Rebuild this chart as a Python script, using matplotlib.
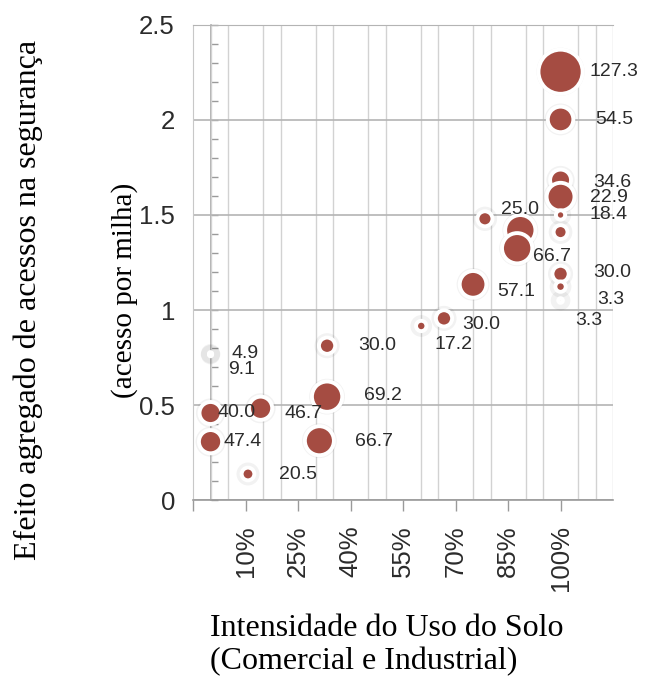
import numpy as np
import matplotlib.pyplot as plt
from matplotlib.ticker import MultipleLocator

# data
uso_solo = [0, 0, 0, 0, 10.7, 14.3, 33.3, 33.3, 31.1, 60.2, 66.7, 75.0,
            78.4, 88.5, 87.6, 100, 100, 100, 100, 100, 100, 100, 100, 100]
efeito = [0.770, 0.765, 0.458, 0.307, 0.137, 0.483, 0.812, 0.544, 0.312, 0.916, 0.956, 1.135,
          1.480, 1.420, 1.325, 2.254, 2.003, 1.684, 1.596, 1.500, 1.410, 1.190, 1.123, 1.050]
rotulos = ["9.1", "4.9", "40.0", "47.4", "20.5", "46.7", "30.0", "69.2", "66.7", "17.2", "30.0", "57.1",
           "25.0", "", "66.7", "127.3", "54.5", "34.6", "22.9", "18.4", "", "30.0", "3.3", "3.3"]
# relative bubble size (area)
peso = [2, 2, 90, 100, 30, 100, 49, 170, 156, 20, 49, 132,
        42, 170, 170, 361, 121, 81, 144, 16, 36, 49, 20, 4]

x_ticks = [-5, 10, 25, 40, 55, 70, 85, 100]
x_ticklabels = ["", "10%", "25%", "40%", "55%", "70%", "85%", "100%"]
y_ticks = [0, 0.5, 1, 1.5, 2, 2.5]
y_ticklabels = ["0", "0.5", "1", "1.5", "2", "2.5"]

# label placement offsets in pixels (Tableau moved some labels around)
label_offsets = [(18, -16), (21, 1), (7, 0), (13, 0), (31, -1), (24, -5), (31, 0), (37, 1),
                 (36, -1), (13, -19), (18, -6), (24, -7), (16, 9), (0, 0), (16, -8), (29, 0),
                 (35, 0), (33, -2), (29, -1), (29, 0), (0, 0), (33, 1), (37, -13), (15, -20)]

bubble_color = '#a54c42'
text_color = '#2b2b2b'
serif = ['Liberation Serif', 'DejaVu Serif']
sans = ['Liberation Sans', 'DejaVu Sans']

fig = plt.figure(figsize=(6.46, 6.79), dpi=100)
ax = fig.add_axes([0.2988, 0.2636, 0.6502, 0.6996])
ax.set_xlim(-5, 115)
ax.set_ylim(0, 2.5)

# grid
ax.xaxis.set_minor_locator(MultipleLocator(5))
ax.grid(which='minor', axis='x', color='#d2d2d2', lw=1.0, zorder=0)
ax.set_yticks(y_ticks)
ax.set_yticklabels(y_ticklabels, fontsize=18.5, color=text_color, family=sans)
ax.grid(which='major', axis='y', color='#b4b4b4', lw=1.2, zorder=0)
ax.set_axisbelow(True)
ax.tick_params(axis='y', length=0, pad=13)
ax.tick_params(axis='x', which='minor', length=0)

ax.set_xticks(x_ticks)
ax.set_xticklabels(x_ticklabels, rotation=90, fontsize=18.5, color=text_color, family=sans)
ax.tick_params(axis='x', which='major', length=8, color='#9a9a9a', width=1, pad=10)

ax.spines['right'].set_visible(False)
ax.spines['top'].set_color('#b4b4b4')
ax.spines['left'].set_color('#c8c8c8')
ax.spines['bottom'].set_color('#9a9a9a')
ax.spines['bottom'].set_linewidth(1.2)

# the y axis line itself sits at 0%
sec = ax.secondary_yaxis(5 / 120)
sec.spines['left'].set_color('#9a9a9a')
sec.spines['left'].set_linewidth(1.1)
sec.yaxis.set_minor_locator(MultipleLocator(0.1))
sec.set_yticks(y_ticks)
sec.set_yticklabels([])
sec.tick_params(which='both', direction='in', length=5, color='#9a9a9a', width=1)

# bubbles: faint shadow ring, then white halo + filled circle
s = 2.8 * np.array(peso)
ax.scatter(uso_solo, efeito, s=s + 190, color='#000000', alpha=0.05, lw=0, zorder=2)
ax.scatter(uso_solo, efeito, s=s, color=bubble_color, edgecolors='white', linewidths=2.8, zorder=3)

for xi, yi, txt, (dx, dy) in zip(uso_solo, efeito, rotulos, label_offsets):
    if txt:
        ax.annotate(txt, (xi, yi), xytext=(dx, dy), textcoords='offset pixels',
                    ha='left', va='center', fontsize=14, color=text_color, family=sans, zorder=4)

# axis titles
fig.text(0.0433, 0.558, 'Efeito agregado de acessos na segurança', rotation=90,
         ha='center', va='center', fontsize=23, family=serif)
fig.text(0.1935, 0.573, '(acesso por milha)', rotation=90,
         ha='center', va='center', fontsize=21, family=serif)
fig.text(0.325, 0.0751, 'Intensidade do Uso do Solo', ha='left', va='center',
         fontsize=23, family=serif)
fig.text(0.325, 0.025, '(Comercial e Industrial)', ha='left', va='center',
         fontsize=23, family=serif)

fig.savefig('out.png', dpi=100)
